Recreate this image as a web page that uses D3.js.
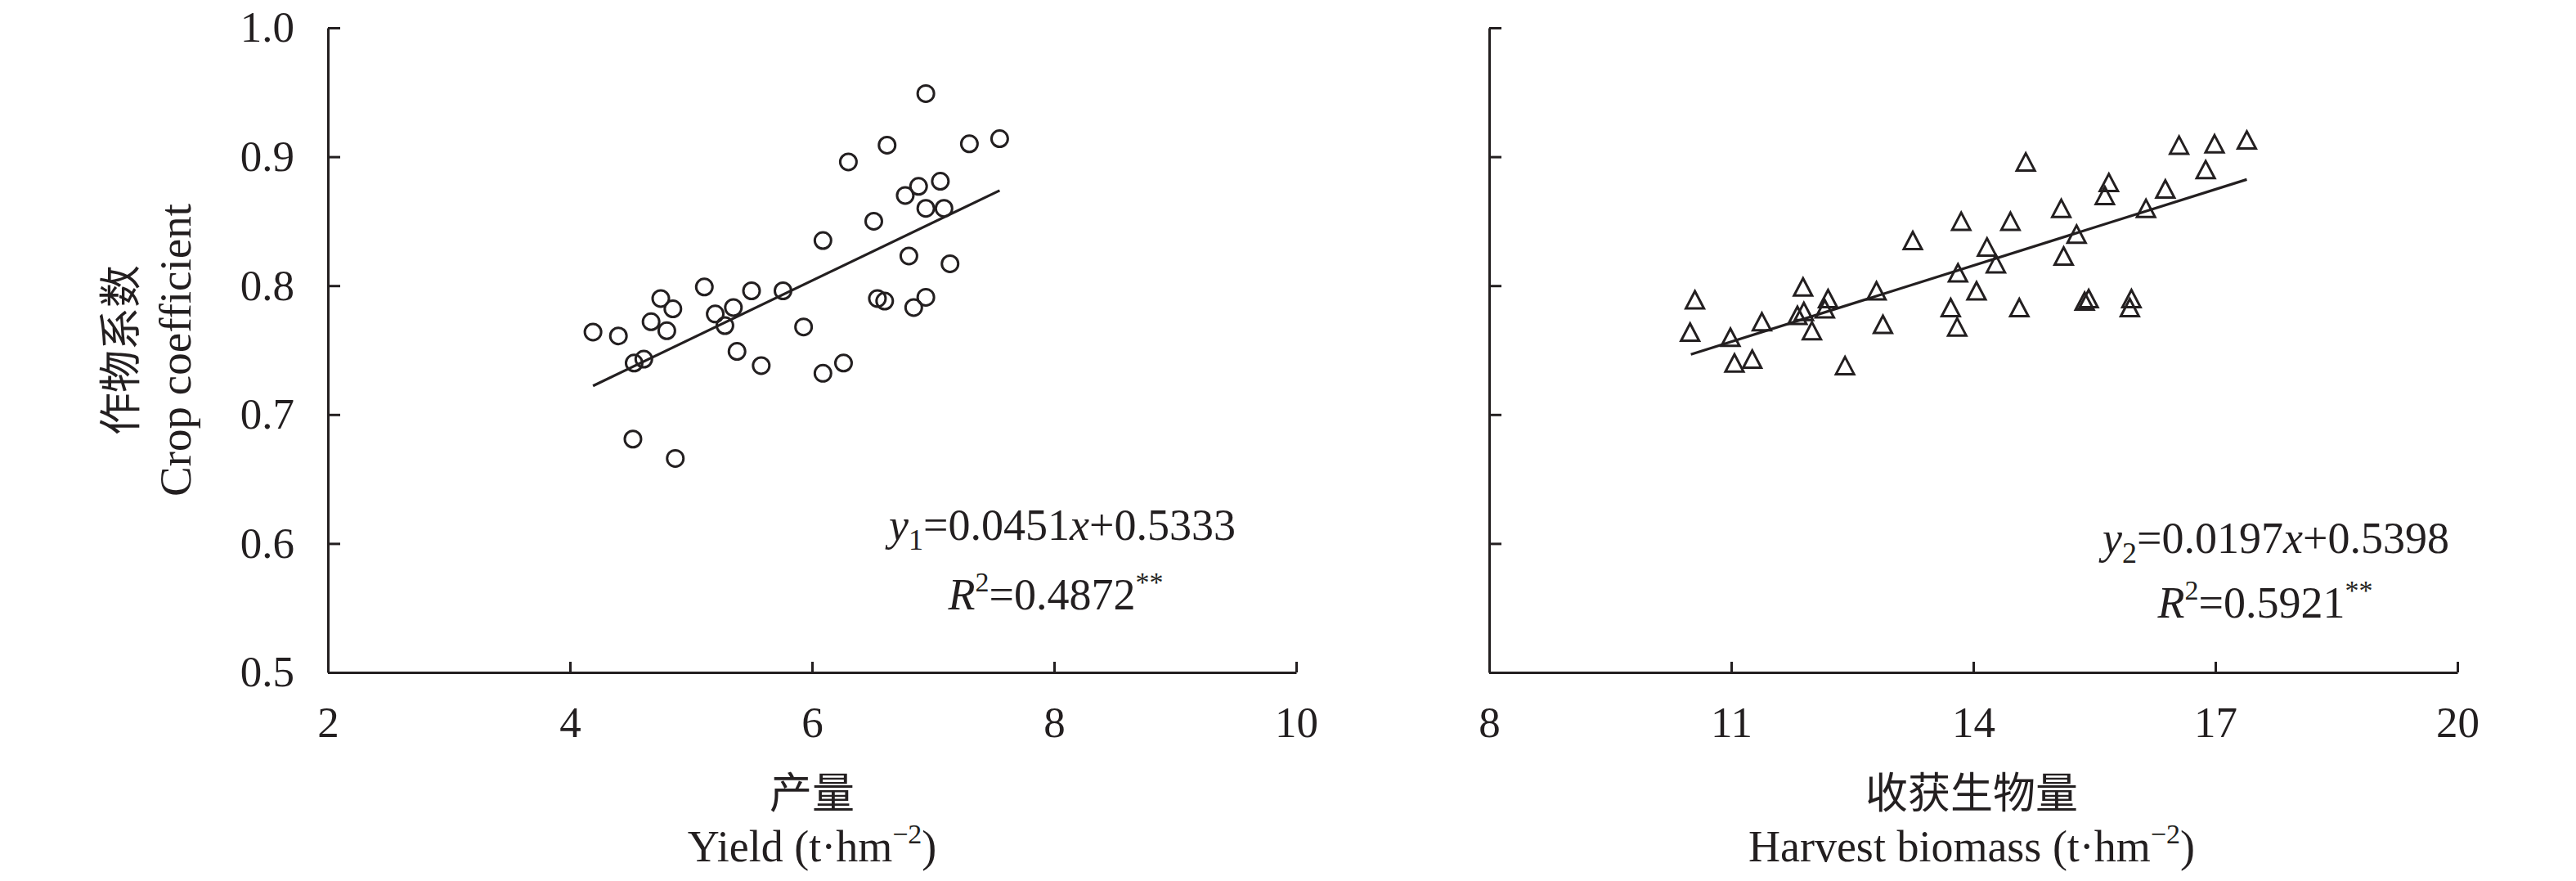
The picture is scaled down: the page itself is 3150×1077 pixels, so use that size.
<!DOCTYPE html>
<html>
<head>
<meta charset="utf-8">
<script src="https://cdn.jsdelivr.net/npm/d3@7"></script>
<style>
  html, body { margin: 0; padding: 0; background: #fff; }
  svg { display: block; }
  text { font-family: "Liberation Serif", "Times New Roman", "Noto Sans CJK SC", serif; fill: #231f20; }
</style>
</head>
<body>
<svg id="chart" width="3150" height="1077"></svg>
<script>
// ---------- data ----------
const yieldX  = [4.19,4.40,4.53,4.61,4.67,4.75,4.80,4.85,5.11,5.20,5.28,5.35,5.38,5.50,5.58,5.76,5.93,6.09,6.09,6.26,6.30,6.51,6.54,6.60,6.62,6.77,6.80,6.84,6.88,6.94,6.94,6.94,7.06,7.09,7.14,7.30,7.55,4.52,4.87];
const yieldKc = [0.764,0.761,0.740,0.743,0.772,0.790,0.765,0.782,0.799,0.778,0.769,0.783,0.749,0.796,0.738,0.796,0.768,0.835,0.732,0.740,0.896,0.850,0.790,0.788,0.909,0.870,0.823,0.783,0.877,0.860,0.949,0.791,0.881,0.860,0.817,0.910,0.914,0.681,0.666];

const biomassX  = [10.55,10.49,10.99,11.04,11.26,11.38,11.82,11.89,11.90,12.00,12.16,12.20,12.41,12.80,12.88,13.25,13.72,13.80,13.81,13.85,14.04,14.17,14.28,14.46,14.57,14.65,15.09,15.12,15.28,15.38,15.43,15.63,15.68,15.94,15.96,16.14,16.38,16.55,16.88,16.99,17.39];
const biomassKc = [0.789,0.764,0.760,0.740,0.743,0.772,0.777,0.799,0.780,0.765,0.782,0.790,0.738,0.796,0.770,0.835,0.783,0.768,0.810,0.850,0.796,0.830,0.817,0.850,0.783,0.896,0.860,0.823,0.840,0.788,0.790,0.870,0.880,0.783,0.790,0.860,0.875,0.909,0.890,0.910,0.913];

const fit1 = {slope: 0.0451, intercept: 0.5333, from: 4.19, to: 7.55};
const fit2 = {slope: 0.0197, intercept: 0.5398, from: 10.50, to: 17.39};

const yTicks  = [0.5, 0.6, 0.7, 0.8, 0.9, 1.0];
const xTicks1 = [2, 4, 6, 8, 10];
const xTicks2 = [8, 11, 14, 17, 20];

// ---------- layout ----------
const INK = "#231f20";
const svg = d3.select("#chart");

const y  = d3.scaleLinear().domain([0.5, 1.0]).range([822, 34]);
const x1 = d3.scaleLinear().domain([2, 10]).range([401, 1585]);
const x2 = d3.scaleLinear().domain([8, 20]).range([1821, 3005]);

function styleAxis(g) {
  g.select(".domain").attr("stroke", INK).attr("stroke-width", 3);
  g.selectAll(".tick line").attr("stroke", INK).attr("stroke-width", 3);
  g.selectAll(".tick text").attr("fill", INK)
    .attr("font-family", '"Liberation Serif", "Times New Roman", serif')
    .attr("font-size", 53);
}

// Y axes
svg.append("g").attr("transform", `translate(${x1.range()[0]},0)`)
  .call(d3.axisLeft(y).tickValues(yTicks).tickFormat(d3.format(".1f"))
        .tickSizeInner(-15).tickSizeOuter(0).tickPadding(41))
  .call(styleAxis);
svg.append("g").attr("transform", `translate(${x2.range()[0]},0)`)
  .call(d3.axisLeft(y).tickValues(yTicks).tickFormat(() => "")
        .tickSizeInner(-15).tickSizeOuter(0))
  .call(styleAxis);

// X axes
svg.append("g").attr("transform", `translate(0,${y.range()[0]})`)
  .call(d3.axisBottom(x1).tickValues(xTicks1).tickFormat(d3.format("d"))
        .tickSizeInner(-13).tickSizeOuter(0).tickPadding(41))
  .call(styleAxis);
svg.append("g").attr("transform", `translate(0,${y.range()[0]})`)
  .call(d3.axisBottom(x2).tickValues(xTicks2).tickFormat(d3.format("d"))
        .tickSizeInner(-13).tickSizeOuter(0).tickPadding(41))
  .call(styleAxis);

// regression lines
const line1 = d3.line().x(d => x1(d)).y(d => y(fit1.slope * d + fit1.intercept));
const line2 = d3.line().x(d => x2(d)).y(d => y(fit2.slope * d + fit2.intercept));
svg.append("path").datum([fit1.from, fit1.to]).attr("d", line1)
  .attr("stroke", INK).attr("stroke-width", 3.2).attr("fill", "none");
svg.append("path").datum([fit2.from, fit2.to]).attr("d", line2)
  .attr("stroke", INK).attr("stroke-width", 3.2).attr("fill", "none");

// markers
svg.append("g").selectAll("circle").data(d3.range(yieldX.length)).join("circle")
  .attr("cx", i => x1(yieldX[i])).attr("cy", i => y(yieldKc[i]))
  .attr("r", 10).attr("fill", "none").attr("stroke", INK).attr("stroke-width", 3);

const triBox = {
  draw(ctx, size) {
    const w = Math.sqrt(size) * 1.05, h = Math.sqrt(size);
    ctx.moveTo(0, -h / 2);
    ctx.lineTo(w / 2, h / 2);
    ctx.lineTo(-w / 2, h / 2);
    ctx.closePath();
  }
};
const tri = d3.symbol().type(triBox).size(21 * 21);
svg.append("g").selectAll("path").data(d3.range(biomassX.length)).join("path")
  .attr("transform", i => `translate(${x2(biomassX[i])},${y(biomassKc[i])})`)
  .attr("d", tri).attr("fill", "none").attr("stroke", INK)
  .attr("stroke-width", 3).attr("stroke-linejoin", "miter");

// equations
function equation(cx, by, sub, eq, r2) {
  const t = svg.append("text").attr("x", cx).attr("y", by)
    .attr("text-anchor", "middle").attr("font-size", 54);
  t.append("tspan").attr("font-style", "italic").text("y");
  t.append("tspan").attr("font-size", 36).attr("dy", 12).text(sub);
  t.append("tspan").attr("dy", -12).text("=" + eq[0]);
  t.append("tspan").attr("font-style", "italic").text("x");
  t.append("tspan").text("+" + eq[1]);
}
function rsq(cx, by, val) {
  const t = svg.append("text").attr("x", cx).attr("y", by)
    .attr("text-anchor", "middle").attr("font-size", 54);
  t.append("tspan").attr("font-style", "italic").text("R");
  t.append("tspan").attr("font-size", 34).attr("dy", -22).text("2");
  t.append("tspan").attr("dy", 22).text("=" + val);
  t.append("tspan").attr("font-size", 34).attr("dy", -22).text("**");
}
equation(1299, 660, "1", ["0.0451", "0.5333"]);
rsq(1291, 745, "0.4872");
equation(2783, 676, "2", ["0.0197", "0.5398"]);
rsq(2770, 755, "0.5921");

// axis titles
function xTitle(cx, zh, en) {
  svg.append("text").attr("x", cx).attr("y", 988).attr("text-anchor", "middle")
    .attr("font-size", 52).attr("font-family", '"Noto Sans CJK SC", sans-serif').text(zh);
  const t = svg.append("text").attr("x", cx).attr("y", 1053).attr("text-anchor", "middle")
    .attr("font-size", 54);
  t.append("tspan").text(en + " (t\u00B7hm");
  t.append("tspan").attr("font-size", 34).attr("dy", -22).text("\u22122");
  t.append("tspan").attr("dy", 22).text(")");
}
xTitle(993, "产量", "Yield");
xTitle(2411, "收获生物量", "Harvest biomass");

// y title
const yMid = (y.range()[0] + y.range()[1]) / 2;
svg.append("text").attr("transform", `translate(166,${yMid}) rotate(-90)`)
  .attr("text-anchor", "middle").attr("font-size", 52)
  .attr("font-family", '"Noto Sans CJK SC", sans-serif').text("作物系数");
svg.append("text").attr("transform", `translate(233,${yMid}) rotate(-90)`)
  .attr("text-anchor", "middle").attr("font-size", 55).text("Crop coefficient");
</script>
</body>
</html>
